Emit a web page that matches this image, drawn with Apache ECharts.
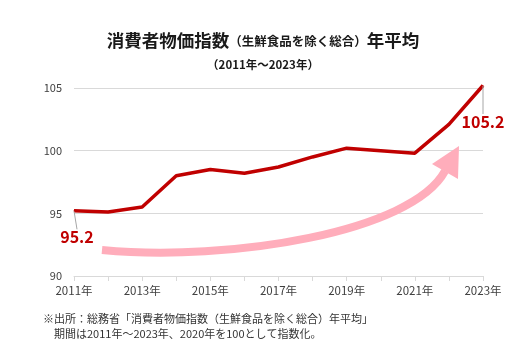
<!DOCTYPE html>
<html><head><meta charset="utf-8">
<script src="https://cdn.jsdelivr.net/npm/echarts@6/dist/echarts.min.js"></script>
<style>html,body{margin:0;padding:0;background:#fff}#c{width:526px;height:341px}</style>
</head><body><div id="c"></div>
<script>
const years = ['2011年','2012年','2013年','2014年','2015年','2016年','2017年','2018年','2019年','2020年','2021年','2022年','2023年'];
const cpi = [95.2, 95.1, 95.5, 98.0, 98.5, 98.2, 98.7, 99.5, 100.2, 100.0, 99.8, 102.1, 105.2];
const yTicks = [90, 95, 100, 105];
const FONT = '"Noto Sans CJK JP", "Noto Sans", sans-serif';
const RED = '#c00000';
const PINK = '#ffadbb';

const chart = echarts.init(document.getElementById('c'), null, {renderer:'canvas'});
const lastIdx = cpi.length - 1;
const seriesData = cpi.map((v, i) => {
  if (i === 0 || i === lastIdx) {
    return {value: v, label: {show: true, formatter: '{c}'}};
  }
  return v;
});

chart.setOption({
  animation: false,
  textStyle: {fontFamily: FONT},
  title: [{
    text: '{a|消費者物価指数}{b|（生鮮食品を除く総合）}{a|年平均}',
    left: 'center', top: 27,
    textStyle: {rich: {
      a: {fontSize: 17.5, fontWeight: 'bold', color: '#1a1a1a', fontFamily: FONT},
      b: {fontSize: 12.5, fontWeight: 'bold', color: '#1a1a1a', fontFamily: FONT, padding:[2,0,0,0]}
    }}
  }, {
    text: '（2011年～2023年）',
    left: 'center', top: 54,
    textStyle: {fontSize: 11.5, fontWeight: 'bold', color: '#1a1a1a', fontFamily: FONT}
  }, {
    text: '※出所：総務省「消費者物価指数（生鮮食品を除く総合）年平均」\n　期間は2011年～2023年、2020年を100として指数化。',
    left: 43, top: 312, padding: 0,
    textStyle: {fontSize: 11, fontWeight: 'normal', color: '#333', lineHeight: 14.5, fontFamily: FONT}
  }],
  grid: {left: 74, right: 43, top: 88, bottom: 65},
  xAxis: {
    type: 'category', data: years, boundaryGap: false,
    axisLine: {lineStyle: {color: '#d9d9d9'}},
    axisTick: {show: true, interval: 0, length: 5, lineStyle: {color: '#d9d9d9'}},
    axisLabel: {interval: 1, color: '#404040', fontSize: 11.5, margin: 9, fontFamily: FONT}
  },
  yAxis: {
    type: 'value', min: yTicks[0], max: yTicks[yTicks.length-1], interval: 5,
    axisLine: {show: false}, axisTick: {show: false},
    splitLine: {lineStyle: {color: '#d9d9d9'}},
    axisLabel: {color: '#404040', fontSize: 11, margin: 12, fontFamily: FONT}
  },
  series: [{
    type: 'line', data: seriesData, clip: false,
    symbol: 'circle', symbolSize: 1, showSymbol: true, smooth: false,
    itemStyle: {color: RED},
    lineStyle: {color: RED, width: 3.5},
    label: {show: false, position: 'bottom', distance: 4, color: RED, fontSize: 16, fontWeight: 'bold', fontFamily: FONT},
    labelLine: {show: true, lineStyle: {color: '#a6a6a6', width: 1}},
    labelLayout: function (p) {
      return p.dataIndex === 0 ? {dx: 3, dy: 14} : {dy: 24};
    }
  }],
  graphic: [{
    type: 'bezierCurve',
    shape: {x1: 102, y1: 250, cpx1: 230, cpy1: 262, cpx2: 412, cpy2: 232, x2: 445, y2: 171},
    style: {stroke: PINK, lineWidth: 8, fill: null, lineCap: 'butt'},
    silent: true, z: 1
  }, {
    type: 'polygon',
    shape: {points: [[432, 164], [458, 179], [459, 146]]},
    style: {fill: PINK}, silent: true, z: 1
  }]
});
</script></body></html>
